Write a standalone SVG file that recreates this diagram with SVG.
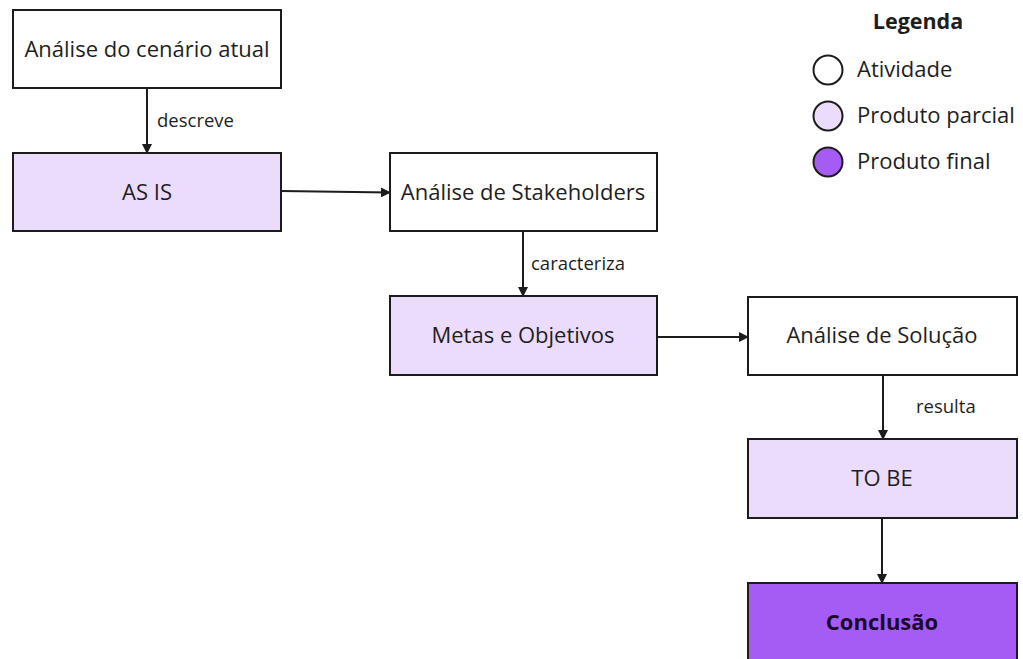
<svg xmlns="http://www.w3.org/2000/svg" width="1023" height="659" viewBox="0 0 1023 659">
<defs>
<style>
text{font-family:"Open Sans","Noto Sans",sans-serif;fill:#1e1e1e}
.box{stroke:#1c1c1c;stroke-width:2}
.act{fill:#ffffff}
.part{fill:#ecdcfb}
.fin{fill:#a55cf5}
.t{font-size:22px;text-anchor:middle}
.lbl{font-size:18.5px}
.con{stroke:#1c1c1c;stroke-width:2;fill:none;marker-end:url(#arr)}
</style>
<marker id="arr" viewBox="0 0 10 10" refX="9" refY="5" markerWidth="5" markerHeight="5" orient="auto" markerUnits="strokeWidth">
<path d="M0,0 L10,5 L0,10 z" fill="#1c1c1c"/>
</marker>
</defs>
<rect width="1023" height="659" fill="#ffffff"/>
<g id="connectors">
<line class="con" x1="147" y1="88" x2="147" y2="153"/>
<line class="con" x1="281" y1="191" x2="390" y2="192.5"/>
<line class="con" x1="523" y1="231" x2="523" y2="296"/>
<line class="con" x1="657" y1="337" x2="748" y2="337"/>
<line class="con" x1="883" y1="375" x2="883" y2="439"/>
<line class="con" x1="882" y1="518" x2="882" y2="583"/>
<text class="lbl" x="157" y="127">descreve</text>
<text class="lbl" x="531" y="270">caracteriza</text>
<text class="lbl" x="916" y="413">resulta</text>
</g>
<g id="n1"><rect class="box act" x="13" y="10" width="268" height="78"/><text class="t" x="147" y="57">Análise do cenário atual</text></g>
<g id="n2"><rect class="box part" x="13" y="153" width="268" height="78"/><text class="t" x="147" y="200">AS IS</text></g>
<g id="n3"><rect class="box act" x="390" y="153" width="267" height="78"/><text class="t" x="523" y="200">Análise de Stakeholders</text></g>
<g id="n4"><rect class="box part" x="390" y="296" width="267" height="79"/><text class="t" x="523" y="343">Metas e Objetivos</text></g>
<g id="n5"><rect class="box act" x="748" y="297" width="269" height="78"/><text class="t" x="882" y="343">Análise de Solução</text></g>
<g id="n6"><rect class="box part" x="748" y="439" width="269" height="79"/><text class="t" x="882" y="486">TO BE</text></g>
<g id="n7"><rect class="box fin" x="748" y="583" width="269" height="90"/><text class="t" x="882" y="630" font-weight="bold" style="fill:#1a0a2a">Conclusão</text></g>
<g id="legend">
<text x="918" y="29" font-size="21.5" font-weight="bold" text-anchor="middle">Legenda</text>
<circle cx="828" cy="70" r="14.5" fill="#ffffff" stroke="#1c1c1c" stroke-width="2"/>
<text x="857" y="77" font-size="22">Atividade</text>
<circle cx="828" cy="116" r="14.5" fill="#ecdcfb" stroke="#1c1c1c" stroke-width="2"/>
<text x="857" y="123" font-size="22">Produto parcial</text>
<circle cx="828" cy="162" r="14.5" fill="#a55cf5" stroke="#1c1c1c" stroke-width="2"/>
<text x="857" y="169" font-size="22">Produto final</text>
</g>
</svg>
